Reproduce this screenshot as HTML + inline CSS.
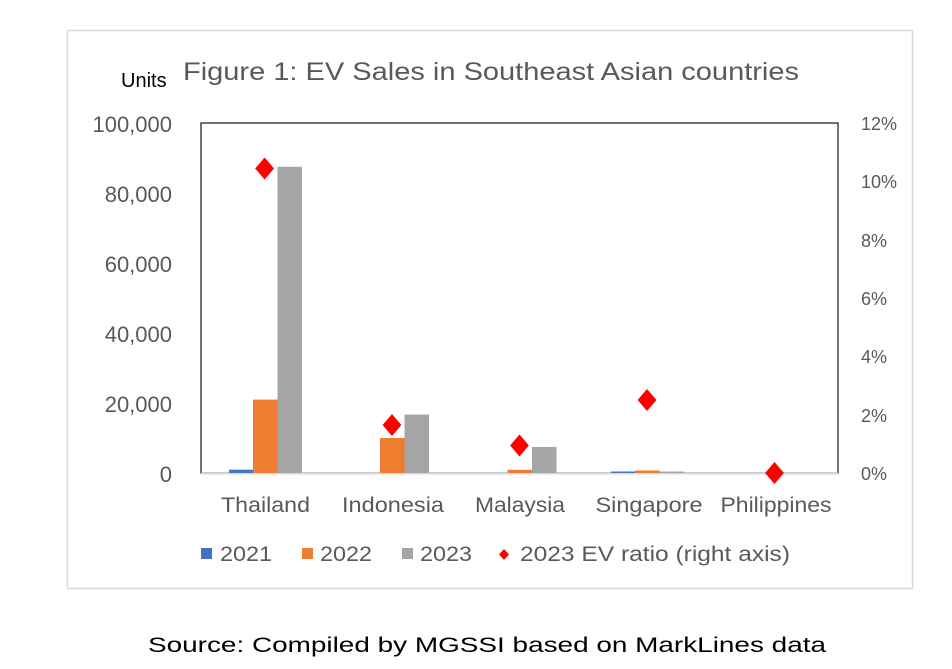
<!DOCTYPE html>
<html><head><meta charset="utf-8"><style>
html,body{margin:0;padding:0;background:#fff;}
svg{display:block;font-family:"Liberation Sans",Arial,sans-serif;}
</style></head><body>
<svg width="952" height="669" viewBox="0 0 952 669" xmlns="http://www.w3.org/2000/svg">
<rect x="67.5" y="30.5" width="845" height="558" fill="#fff" stroke="#d9d9d9" stroke-width="1.5"/>
<text x="121" y="87" font-size="20" fill="#000">Units</text>
<text x="183" y="80" font-size="25" fill="#595959" textLength="616" lengthAdjust="spacingAndGlyphs">Figure 1: EV Sales in Southeast Asian countries</text>
<rect x="201" y="123" width="637" height="350" fill="#fff" stroke="#262626" stroke-width="1.3"/>
<line x1="201" y1="473.5" x2="838" y2="473.5" stroke="#d9d9d9" stroke-width="2"/>
<g font-size="22" fill="#595959" text-anchor="end">
<text x="172" y="132">100,000</text>
<text x="172" y="202">80,000</text>
<text x="172" y="272">60,000</text>
<text x="172" y="342">40,000</text>
<text x="172" y="412">20,000</text>
<text x="172" y="482">0</text>
</g>
<g font-size="18" fill="#595959">
<text x="861" y="130">12%</text>
<text x="861" y="188">10%</text>
<text x="861" y="247">8%</text>
<text x="861" y="305">6%</text>
<text x="861" y="363">4%</text>
<text x="861" y="422">2%</text>
<text x="861" y="480">0%</text>
</g>
<g>
<rect x="229" y="469.7" width="24" height="3.3" fill="#4472c4"/>
<rect x="253" y="399.6" width="24.5" height="73.4" fill="#ed7d31"/>
<rect x="277.5" y="166.8" width="24.5" height="306.2" fill="#a5a5a5"/>
<rect x="380" y="438" width="24.5" height="35" fill="#ed7d31"/>
<rect x="404.5" y="414.6" width="24.5" height="58.4" fill="#a5a5a5"/>
<rect x="507.5" y="469.8" width="24.5" height="3.2" fill="#ed7d31"/>
<rect x="532" y="447" width="24.5" height="26" fill="#a5a5a5"/>
<rect x="611" y="471.5" width="24" height="1.5" fill="#4472c4"/>
<rect x="635" y="470.5" width="24.5" height="2.5" fill="#ed7d31"/>
<rect x="659.5" y="471.5" width="24.5" height="1.5" fill="#a5a5a5"/>
</g>
<g fill="#ff0000">
<polygon points="264.6,157.5 274,168.5 264.6,179.5 255.2,168.5"/>
<polygon points="392,414 401.4,425 392,436 382.6,425"/>
<polygon points="519.5,434.5 528.9,445.5 519.5,456.5 510.1,445.5"/>
<polygon points="647,389 656.4,400 647,411 637.6,400"/>
<polygon points="774.5,462 783.9,473 774.5,484 765.1,473"/>
</g>
<g font-size="21" fill="#595959" text-anchor="middle">
<text x="265.5" y="512" textLength="89" lengthAdjust="spacingAndGlyphs">Thailand</text>
<text x="393" y="512" textLength="102" lengthAdjust="spacingAndGlyphs">Indonesia</text>
<text x="520" y="512" textLength="90" lengthAdjust="spacingAndGlyphs">Malaysia</text>
<text x="649" y="512" textLength="107" lengthAdjust="spacingAndGlyphs">Singapore</text>
<text x="776" y="512" textLength="111" lengthAdjust="spacingAndGlyphs">Philippines</text>
</g>
<rect x="201" y="548" width="11" height="11" fill="#4472c4"/>
<text x="220" y="561" font-size="21" fill="#595959" textLength="52" lengthAdjust="spacingAndGlyphs">2021</text>
<rect x="302" y="548" width="11" height="11" fill="#ed7d31"/>
<text x="320" y="561" font-size="21" fill="#595959" textLength="52" lengthAdjust="spacingAndGlyphs">2022</text>
<rect x="402" y="548" width="11" height="11" fill="#a5a5a5"/>
<text x="420" y="561" font-size="21" fill="#595959" textLength="52" lengthAdjust="spacingAndGlyphs">2023</text>
<polygon points="504,549 509,554.5 504,560 499,554.5" fill="#ff0000"/>
<text x="520" y="561" font-size="21" fill="#595959" textLength="270" lengthAdjust="spacingAndGlyphs">2023 EV ratio (right axis)</text>
<text x="148" y="652" font-size="21" fill="#000" textLength="678" lengthAdjust="spacingAndGlyphs">Source: Compiled by MGSSI based on MarkLines data</text>
</svg>
</body></html>
